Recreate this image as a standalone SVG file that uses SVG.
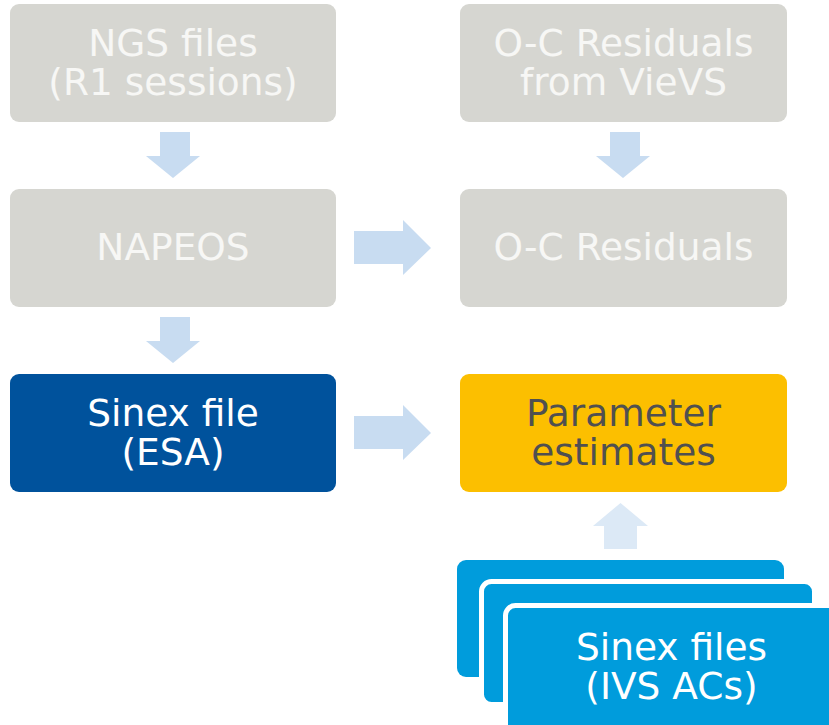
<svg xmlns="http://www.w3.org/2000/svg" width="829" height="725" viewBox="0 0 829 725">
<style>
  text { font-family: "DejaVu Sans", Verdana, sans-serif; font-size: 37.5px; text-anchor: middle; }
  .gray { fill: #d6d6d1; }
  .gtxt { fill: #f7f7f5; }
  .wtxt { fill: #ffffff; }
  .otxt { fill: #505050; }
  .arrow { fill: #c8dcf1; }
  .arrowlight { fill: #dce9f6; }
  .blue { fill: #009cdc; }
  .stacked { fill: #009cdc; stroke: #ffffff; stroke-width: 5; }
</style>
<rect width="829" height="725" fill="#ffffff"/>
<g id="connectors">
  <polygon class="arrow" points="160,132 190,132 190,156 200,156 173,178 146,156 160,156"/>
  <polygon class="arrow" points="160,317 190,317 190,341 200,341 173,363 146,341 160,341"/>
  <polygon class="arrow" points="610,132 640,132 640,156 650,156 623,178 596,156 610,156"/>
  <polygon class="arrow" points="354,231 403,231 403,220 431,248 403,275 403,264 354,264"/>
  <polygon class="arrow" points="354,416 403,416 403,405 431,433 403,460 403,449 354,449"/>
  <polygon class="arrowlight" points="604,549 637,549 637,526 648,526 620.5,503 593,526 604,526"/>
</g>
<g id="ngs">
  <rect class="gray" x="10" y="4" width="326" height="118" rx="9"/>
  <text class="gtxt" x="173" y="56">NGS files</text>
  <text class="gtxt" x="173" y="95">(R1 sessions)</text>
</g>
<g id="napeos">
  <rect class="gray" x="10" y="189" width="326" height="118" rx="9"/>
  <text class="gtxt" x="173" y="260">NAPEOS</text>
</g>
<g id="sinex-esa">
  <rect fill="#00529c" x="10" y="374" width="326" height="118" rx="9"/>
  <text class="wtxt" x="173" y="426">Sinex file</text>
  <text class="wtxt" x="173" y="465">(ESA)</text>
</g>
<g id="oc-vievs">
  <rect class="gray" x="460" y="4" width="327" height="118" rx="9"/>
  <text class="gtxt" x="623.5" y="56">O-C Residuals</text>
  <text class="gtxt" x="623.5" y="95">from VieVS</text>
</g>
<g id="oc-residuals">
  <rect class="gray" x="460" y="189" width="327" height="118" rx="9"/>
  <text class="gtxt" x="623.5" y="260">O-C Residuals</text>
</g>
<g id="parameter-estimates">
  <rect fill="#fcbf00" x="460" y="374" width="327" height="118" rx="9"/>
  <text class="otxt" x="623.5" y="426">Parameter</text>
  <text class="otxt" x="623.5" y="465">estimates</text>
</g>
<g id="sinex-ivs">
  <rect class="blue" x="457" y="560" width="327" height="117" rx="9"/>
  <rect class="stacked" x="481.5" y="581.5" width="333" height="123" rx="10"/>
  <rect class="stacked" x="505.5" y="605.5" width="333" height="130" rx="10"/>
  <text class="wtxt" x="671.5" y="660">Sinex files</text>
  <text class="wtxt" x="671.5" y="699">(IVS ACs)</text>
</g>
</svg>
